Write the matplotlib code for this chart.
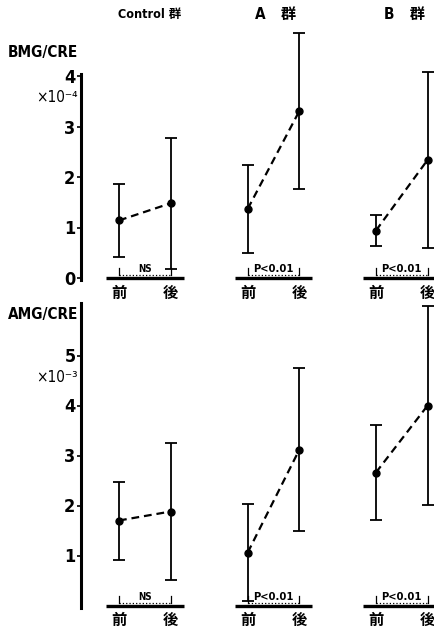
#%% Load packages
import matplotlib
matplotlib.use("Agg")
import matplotlib.pyplot as plt

plt.rcParams['font.family'] = ['DejaVu Sans', 'Noto Sans CJK JP']

#%% Data (mean +/- SD)
groups = ["Control 群", "A　群", "B　群"]
timepoints = ["前", "後"]
stats = ["NS", "P<0.01", "P<0.01"]

# BMG/CRE  (x10^-4)
bmg_pre_mean = [1.14, 1.37, 0.94]
bmg_pre_sd = [0.73, 0.87, 0.30]
bmg_post_mean = [1.48, 3.31, 2.34]
bmg_post_sd = [1.30, 1.54, 1.74]

# AMG/CRE  (x10^-3)
amg_pre_mean = [1.70, 1.06, 2.66]
amg_pre_sd = [0.78, 0.97, 0.95]
amg_post_mean = [1.88, 3.12, 4.00]
amg_post_sd = [1.37, 1.62, 1.98]

#%% Layout helpers
W, H = 434, 632
fig = plt.figure(figsize=(W / 100, H / 100), dpi=100)
jp = ['Noto Sans CJK JP', 'DejaVu Sans']


def px_axes(left, top, right, bottom):
    return fig.add_axes([left / W, 1 - bottom / H, (right - left) / W, (bottom - top) / H])


group_offset = [0, 2.49, 4.97]
pair_gap = 1.0


def draw_panel(ax, pre_mean, pre_sd, post_mean, post_sd, ylim, spine_top, yticks, ytick_labels):
    ax.set_xlim(-0.735, 6.093)
    ax.set_ylim(*ylim)
    for i, off in enumerate(group_offset):
        xs = [off, off + pair_gap]
        ax.plot(xs, [pre_mean[i], post_mean[i]], color="black", lw=1.6,
                ls=(0, (3.5, 2.2)), zorder=3)
        ax.errorbar(xs, [pre_mean[i], post_mean[i]], yerr=[pre_sd[i], post_sd[i]],
                    fmt="o", color="black", ms=5, elinewidth=1.3, capsize=4,
                    capthick=1.3, clip_on=False, zorder=4)
        # baseline under each group
        ax.plot([off - 0.25, off + pair_gap + 0.25], [0, 0], color="black",
                lw=2.4, clip_on=False, solid_capstyle="butt")
        # significance bracket
        ax.plot([off, off], [0.05, 0.2], color="black", lw=0.9, clip_on=False)
        ax.plot([off + pair_gap, off + pair_gap], [0.05, 0.2], color="black", lw=0.9, clip_on=False)
        ax.plot(xs, [0.06, 0.06], color="black", lw=0.9, ls=":", clip_on=False)
        fs = 7 if stats[i] == "NS" else 8
        ax.text(off + pair_gap / 2, 0.08, stats[i], ha="center", va="bottom",
                fontsize=fs, fontweight="bold", fontstretch="condensed",
                bbox=dict(facecolor="white", edgecolor="none", pad=0.2))
    ax.set_xticks([o + d for o in group_offset for d in (0, pair_gap)])
    ax.set_xticklabels(timepoints * 3, family=jp, fontsize=11, fontweight="bold")
    ax.tick_params(axis="x", length=0, pad=5)
    ax.set_yticks(yticks)
    ax.set_yticklabels(ytick_labels, fontsize=13, fontweight="bold", fontstretch="condensed")
    ax.tick_params(axis="y", direction="out", length=3, width=1.2, pad=1)
    for s in ("top", "right", "bottom"):
        ax.spines[s].set_visible(False)
    ax.spines["left"].set_linewidth(2.2)
    ax.spines["left"].set_bounds(-0.04, spine_top)
    ax.patch.set_alpha(0)


#%% Top panel: BMG/CRE
ax1 = px_axes(81, 25.5, 434, 278)
draw_panel(ax1, bmg_pre_mean, bmg_pre_sd, bmg_post_mean, bmg_post_sd,
           (0, 5.0), 4.04, [0, 1, 2, 3, 4], ["0", "1", "2", "3", "4"])

#%% Bottom panel: AMG/CRE
ax2 = px_axes(81, 300.5, 434, 605.5)
draw_panel(ax2, amg_pre_mean, amg_pre_sd, amg_post_mean, amg_post_sd,
           (0, 6.1), 6.06, [1, 2, 3, 4, 5], ["1", "2", "3", "4", "5"])

#%% Labels
def ftext(x, y, s, **kw):
    fig.text(x / W, 1 - y / H, s, **kw)


ftext(8, 53, "BMG/CRE", fontsize=11, fontweight="bold", fontstretch="condensed", va="center", ha="left")
ftext(78, 97, "×10⁻⁴", fontsize=11, va="center", ha="right", fontstretch="condensed")
ftext(8, 315, "AMG/CRE", fontsize=11, fontweight="bold", fontstretch="condensed", va="center", ha="left")
ftext(78, 377, "×10⁻³", fontsize=11, va="center", ha="right", fontstretch="condensed")

header_x = [150, 276, 405]
header_size = [9, 11, 11]
for hx, g, fs in zip(header_x, groups, header_size):
    ftext(hx, 14, g, fontsize=fs, fontweight="bold", va="center", ha="center",
          fontstretch="condensed", family=['DejaVu Sans', 'Noto Sans CJK JP'])

fig.savefig("out.png", dpi=100)
